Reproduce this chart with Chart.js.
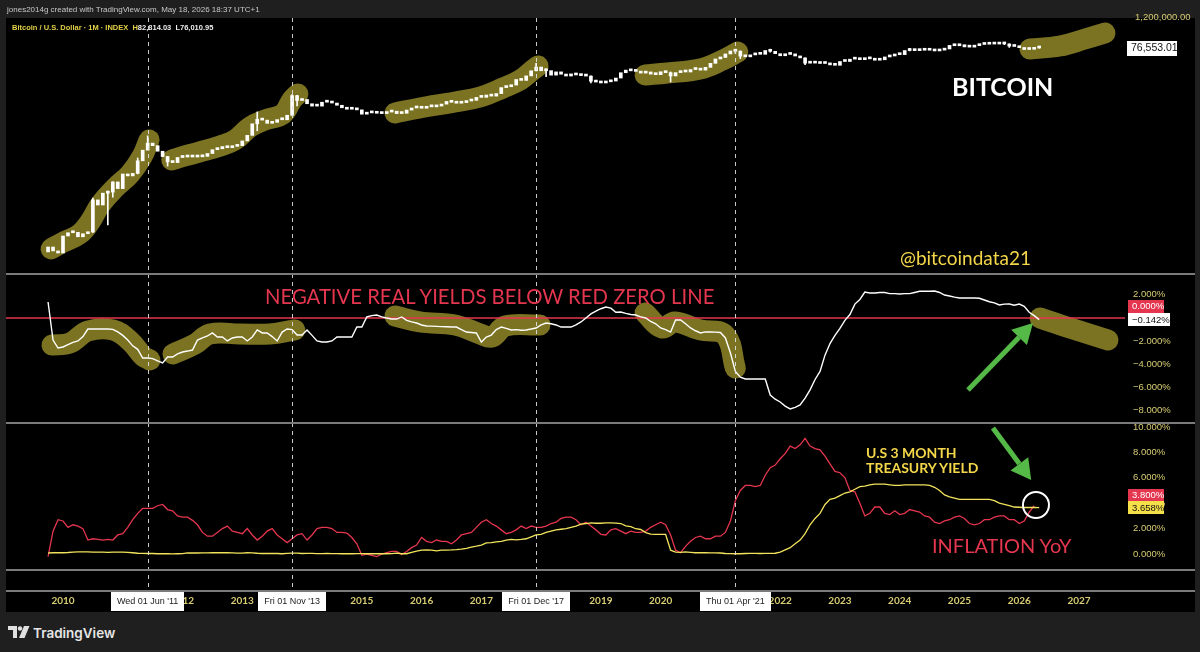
<!DOCTYPE html>
<html><head><meta charset="utf-8">
<script src="https://cdn.jsdelivr.net/npm/chart.js@4.4.1/dist/chart.umd.min.js"></script>
<style>
html,body{margin:0;padding:0;background:#1f1f1f;width:1200px;height:652px;overflow:hidden;font-family:Lato,"Noto Sans",sans-serif;}
#frame{position:absolute;left:6px;top:18px;width:1189px;height:594px;background:#000;}
canvas{position:absolute;left:6px;}
.t{position:absolute;white-space:nowrap;z-index:5;line-height:1;}
.sep{position:absolute;left:6px;width:1189px;height:2px;background:#7a7a7a;z-index:4;}
</style></head><body>
<div id="frame"></div>
<canvas id="c1" width="1189" height="274" style="top:0px"></canvas>
<canvas id="c2" width="1189" height="149" style="top:274px"></canvas>
<canvas id="c3" width="1189" height="189" style="top:423px"></canvas>
<div class="sep" style="top:273px"></div>
<div class="sep" style="top:422px"></div>
<div class="sep" style="top:569px"></div>
<div class="sep" style="top:590px"></div>

<div class="t" style="left:7px;top:5px;font:8px 'Liberation Sans';color:#c8c8c8">jones2014g created with TradingView.com, May 18, 2026 18:37 UTC+1</div>
<div class="t" style="left:12px;top:23px;font:bold 7.5px 'Liberation Sans';color:#e1cf45">Bitcoin / U.S. Dollar · 1M · INDEX &nbsp;H<span style="color:#ececec">82,814.03 &nbsp;L76,010.95</span></div>
<div class="t" style="left:952px;top:71px;font:bold 25px Lato;color:#fff">BITCOIN</div>
<div class="t" style="left:900px;top:246px;font:19px Lato;color:#f3d64a">@bitcoindata21</div>
<div class="t" style="left:265px;top:284px;font:20.3px Lato;color:#e5364f">NEGATIVE REAL YIELDS BELOW RED ZERO LINE</div>
<div class="t" style="left:866px;top:445px;font:bold 14px Lato;color:#f3d64a;line-height:15px">U.S 3 MONTH<br>TREASURY YIELD</div>
<div class="t" style="left:932px;top:533px;font:20px Lato;color:#e5364f">INFLATION YoY</div>
<div class="t" style="left:8px;top:625px;z-index:5;position:absolute">
<svg width="22" height="14" viewBox="0 0 22 14"><path d="M0 1h9v12H5V5H0z" fill="#e0e0e0"/><circle cx="12" cy="3.5" r="2.2" fill="#e0e0e0"/><path d="M16 1h5.5l-5 12H11z" fill="#e0e0e0"/></svg></div>
<div class="t" style="left:33px;top:625px;font:600 13.5px Inter,'Open Sans';color:#e6e6e6">TradingView</div>

<script>
// ---------- DATA ----------
const btcFirstMonth = '2009-10';
const btcFirstOpen = 0.0011;
const btcClose = [
  0.0017, 0.0012, 0.0010,
  0.0045, 0.0060, 0.0062, 0.0042, 0.0055, 0.0064, 0.11, 0.07, 0.20, 0.22, 0.54, 0.30,
  1.09, 0.92, 1.15, 3.5, 9.0, 16.8, 13.4, 8.2, 5.1, 3.2, 3.0, 4.7,
  5.5, 4.9, 4.9, 5.0, 5.2, 6.7, 9.4, 10.2, 12.4, 11.2, 12.6, 13.5,
  20.4, 33.4, 93, 139, 129, 97, 106, 135, 133, 198, 1130, 732,
  800, 550, 445, 445, 630, 640, 585, 480, 385, 338, 378, 320,
  218, 254, 244, 236, 230, 263, 284, 230, 236, 314, 377, 430,
  368, 437, 416, 448, 531, 673, 624, 575, 609, 701, 742, 964,
  970, 1190, 1080, 1350, 2300, 2480, 2875, 4700, 4340, 6470, 10200, 14150,
  10200, 10300, 6930, 9240, 7490, 6400, 7730, 7030, 6630, 6370, 4020, 3740,
  3460, 3830, 4100, 5350, 8570, 10800, 10100, 9630, 8290, 9200, 7570, 7200,
  9350, 8600, 6440, 8660, 9460, 9140, 11350, 11660, 10780, 13800, 19700, 29000,
  33100, 45200, 58800, 57700, 37300, 35000, 41500, 47100, 43800, 61300, 57000, 46300,
  38500, 43200, 45500, 37700, 31800, 19900, 23300, 20050, 19400, 20500, 17170, 16550,
  23130, 23150, 28480, 29250, 27220, 30480, 29230, 25940, 26970, 34650, 37720, 42270,
  42580, 61200, 71300, 60640, 67500, 62680, 64620, 58970, 63330, 70220, 96450, 93430,
  102400, 84350, 82550, 94200, 104600, 107100, 115800, 108200, 114050, 109600, 90400, 87500,
  78600, 67000, 68200, 78900, 76553.01
];
const btcWicks = [
  ['2010-07', 0.0062, 0.13], ['2010-10', 0.012, 0.24], ['2010-11', 0.14, 0.55],
  ['2011-04', 1.1, 4.5], ['2011-06', 10.0, 32.0], ['2011-10', 2.2, 5.2],
  ['2013-04', 50, 266], ['2013-11', 195, 1240], ['2013-12', 450, 1150],
  ['2017-12', 10000, 19700], ['2018-02', 6000, 11800], ['2018-11', 3500, 6500],
  ['2020-03', 3800, 9200], ['2021-04', 47000, 64800], ['2021-05', 30000, 59600],
  ['2021-11', 53000, 69000], ['2022-06', 17600, 31900], ['2024-03', 59000, 73800],
  ['2025-10', 103000, 126000], ['2025-11', 80600, 111000], ['2026-05', 76010.95, 82814.03]
];
const btcLast = 76553.01;
const btcScaleLabel = 1200000;

const ryFirstMonth = '2009-10';
const realYield = [
  1.38, -1.90, -2.59,
  -2.50, -2.30, -2.10, -1.98, -1.60, -0.95, -0.95, -0.95, -0.95, -0.95, -0.98, -1.20,
  -1.50, -1.90, -2.40, -2.70, -3.45, -3.45, -3.50, -3.70, -3.88, -3.36, -3.36, -3.10,
  -2.93, -2.85, -2.76, -1.90, -1.72, -1.55, -1.29, -1.64, -1.64, -1.98, -1.72, -1.64,
  -1.64, -1.98, -1.64, -1.03, -1.29, -1.29, -1.60, -1.98, -1.21, -0.95, -1.00, -1.47,
  -1.47, -1.03, -1.50, -1.98, -2.07, -2.07, -1.98, -1.64, -1.64, -1.64, -1.64, -0.78,
  -0.78, 0.09, 0.20, 0.26, 0.10, 0.00, -0.09, -0.09, 0.09, -0.20, -0.34, -0.43,
  -0.60, -0.69, -0.70, -0.72, -0.74, -0.76, -0.78, -0.78, -1.00, -1.21, -1.25, -1.29,
  -2.07, -1.64, -1.47, -1.00, -0.78, -0.90, -1.03, -1.00, -1.05, -1.03, -0.95, -0.86,
  -0.60, -0.43, -0.50, -0.60, -0.78, -0.78, -0.78, -0.60, -0.34, 0.00, 0.35, 0.60,
  0.80, 0.95, 0.85, 0.50, 0.52, 0.40, 0.30, 0.26, 0.10, 0.00, -0.30, -0.50,
  -0.86, -1.00, -1.21, -0.17, -0.17, -0.50, -0.86, -1.10, -1.29, -1.20, -1.21, -1.22,
  -1.25, -1.72, -3.00, -4.60, -5.10, -5.26, -5.26, -5.26, -5.26, -5.26, -6.64, -7.00,
  -7.24, -7.60, -7.84, -7.70, -7.50, -6.90, -6.20, -5.30, -4.60, -3.20, -2.20, -1.50,
  -0.90, -0.20, 0.30, 1.20, 1.60, 2.24, 2.16, 2.16, 2.20, 2.20, 2.10, 2.10,
  2.07, 2.10, 2.10, 2.20, 2.30, 2.30, 2.30, 2.33, 2.20, 1.98, 1.90, 1.80,
  1.72, 1.72, 1.72, 1.72, 1.70, 1.55, 1.40, 1.30, 1.12, 1.20, 1.21, 1.10,
  1.20, 1.00, 0.50, 0.20, -0.142
];
const zeroLevel = 0;

const rateFirstMonth = '2009-10';
const inflationYoY = [
  -0.2, 1.8, 2.7,
  2.6, 2.1, 2.3, 2.2, 2.0, 1.1, 1.2, 1.15, 1.1, 1.15, 1.1, 1.5,
  1.6, 2.1, 2.7, 3.2, 3.6, 3.6, 3.6, 3.8, 3.9, 3.5, 3.4, 3.0,
  2.9, 2.9, 2.65, 2.3, 1.7, 1.4, 1.4, 1.7, 2.0, 2.2, 1.8, 1.7,
  1.6, 2.0, 1.5, 1.1, 1.4, 1.8, 2.0, 1.5, 1.2, 0.9, 1.2, 1.5,
  1.6, 1.1, 1.5, 2.0, 2.1, 2.1, 2.0, 1.7, 1.7, 1.65, 1.3, 0.8,
  -0.1, 0.0, -0.1, -0.2, 0.0, 0.1, 0.2, 0.2, -0.04, 0.2, 0.5, 0.7,
  1.3, 1.0, 0.9, 1.1, 1.0, 1.0, 0.8, 1.1, 1.5, 1.6, 1.7, 2.1,
  2.5, 2.7, 2.4, 2.2, 1.9, 1.6, 1.7, 1.9, 2.2, 2.0, 2.2, 2.1,
  2.1, 2.2, 2.4, 2.5, 2.8, 2.9, 2.9, 2.7, 2.3, 2.5, 2.2, 1.9,
  1.55, 1.5, 1.9, 2.0, 1.8, 1.6, 1.8, 1.7, 1.7, 1.8, 2.1, 2.3,
  2.5, 2.3, 1.5, 0.3, 0.1, 0.6, 1.0, 1.3, 1.4, 1.2, 1.2, 1.4,
  1.4, 1.7, 2.6, 4.2, 5.0, 5.4, 5.4, 5.3, 5.4, 6.2, 6.8, 7.0,
  7.5, 7.9, 8.5, 8.3, 8.6, 9.1, 8.5, 8.3, 8.2, 7.7, 7.1, 6.5,
  6.4, 6.0, 5.0, 4.9, 4.0, 3.0, 3.2, 3.7, 3.7, 3.2, 3.1, 3.4,
  3.1, 3.2, 3.5, 3.4, 3.3, 3.0, 2.9, 2.5, 2.4, 2.6, 2.7, 2.9,
  3.0, 2.8, 2.4, 2.3, 2.4, 2.7, 2.7, 2.9, 3.0, 3.0, 2.7, 2.7,
  2.4, 2.6, 3.3, 3.8
];
const treasury3M = [
  0.08, 0.10, 0.10,
  0.10, 0.12, 0.15, 0.16, 0.16, 0.17, 0.15, 0.15, 0.14, 0.13, 0.14, 0.14,
  0.15, 0.13, 0.10, 0.06, 0.05, 0.04, 0.04, 0.02, 0.02, 0.02, 0.01, 0.02,
  0.03, 0.09, 0.08, 0.08, 0.09, 0.09, 0.10, 0.10, 0.10, 0.10, 0.09, 0.07,
  0.07, 0.10, 0.09, 0.06, 0.04, 0.05, 0.04, 0.04, 0.02, 0.05, 0.07, 0.07,
  0.04, 0.05, 0.05, 0.03, 0.03, 0.04, 0.03, 0.03, 0.02, 0.02, 0.02, 0.03,
  0.03, 0.02, 0.03, 0.02, 0.02, 0.02, 0.03, 0.07, 0.02, 0.02, 0.13, 0.23,
  0.30, 0.33, 0.30, 0.25, 0.30, 0.30, 0.32, 0.35, 0.39, 0.45, 0.55, 0.62,
  0.70, 0.87, 0.90, 0.95, 1.00, 1.10, 1.15, 1.12, 1.15, 1.20, 1.35, 1.50,
  1.55, 1.70, 1.80, 1.90, 1.95, 2.00, 2.10, 2.20, 2.36, 2.40, 2.45, 2.42,
  2.42, 2.45, 2.45, 2.43, 2.40, 2.22, 2.15, 1.99, 1.93, 1.68, 1.57, 1.55,
  1.55, 1.54, 0.30, 0.14, 0.13, 0.16, 0.13, 0.10, 0.11, 0.10, 0.09, 0.09,
  0.08, 0.04, 0.03, 0.02, 0.02, 0.04, 0.05, 0.05, 0.04, 0.05, 0.05, 0.06,
  0.15, 0.33, 0.50, 0.80, 1.10, 1.60, 2.30, 2.80, 3.20, 3.90, 4.30, 4.40,
  4.60, 4.80, 4.90, 5.10, 5.30, 5.35, 5.45, 5.50, 5.50, 5.50, 5.45, 5.40,
  5.40, 5.45, 5.45, 5.45, 5.45, 5.45, 5.40, 5.25, 5.00, 4.65, 4.50, 4.40,
  4.30, 4.30, 4.30, 4.30, 4.30, 4.30, 4.30, 4.20, 4.00, 3.90, 3.80, 3.70,
  3.68, 3.66, 3.66, 3.66, 3.658
];
const inflationLast = 3.8;
const treasuryLast = 3.658;

const yearTicks = [2010,2011,2012,2013,2014,2015,2016,2017,2018,2019,2020,2021,2022,2023,2024,2025,2026,2027];
const ryTicks = [2, 0, -2, -4, -6, -8];
const rateTicks = [10, 8, 6, 4, 2, 0];
const markerDates = ['2011-06', '2013-11', '2017-12', '2021-04'];
const markerLabels = ["Wed 01 Jun '11", "Fri 01 Nov '13", "Fri 01 Dec '17", "Thu 01 Apr '21"];

// hand-drawn highlight strokes (decimal year, value)
const btcHighlights = [
  [[2009.80,0.00143],[2010.00,0.0026],[2010.28,0.0054],[2010.45,0.0156],[2010.62,0.070],[2010.87,0.317],[2011.12,1.09],[2011.32,4.93],[2011.44,22.2]],
  [[2011.82,3.78],[2012.04,5.39],[2012.29,7.68],[2012.63,13.1],[2012.88,22.2],[2013.13,70.3],[2013.38,131],[2013.68,222],[2013.83,767],[2013.93,1310]],
  [[2015.555,243],[2015.97,378],[2016.56,643],[2016.98,1000],[2017.36,2220],[2017.65,4510],[2017.86,10900],[2017.95,15600]],
  [[2019.74,7010],[2020.11,8370],[2020.66,11900],[2021.04,26500],[2021.29,53700]],
  [[2026.18,70100],[2026.68,91400],[2027.10,170000],[2027.435,289000]]
];
const ryHighlights = [
  [[2009.816,-2.33],[2010.117,-2.16],[2010.418,-1.12],[2010.837,-1.03],[2011.121,-1.98],[2011.339,-3.28],[2011.456,-3.62]],
  [[2011.84,-3.1],[2012.21,-2.24],[2012.46,-1.38],[2012.96,-1.38],[2013.46,-1.38],[2013.88,-1.03]],
  [[2015.555,0.17],[2015.97,-0.34],[2016.56,-0.6],[2016.98,-1.38],[2017.18,-1.64],[2017.40,-0.69],[2017.98,-0.6]],
  [[2019.74,0.43],[2020.02,-0.86],[2020.24,-0.34],[2020.66,-1.03],[2021.08,-1.47],[2021.25,-4.31]],
  [[2026.35,0.0],[2026.85,-0.86],[2027.485,-1.9]]
];
const ryArrow = {from:[2025.143,-6.2], to:[2026.23,-0.43]};
const rateArrow = {from:[2025.56,9.92], to:[2026.20,5.83]};
const rateCircle = [2026.28, 3.86];

// ---------- RENDER ----------
const X_MIN = 2009.0463, X_MAX = 2027.7696;
const OLIVE = '#7b7322', RED = '#e5364f', YEL = '#f2e35c', TICK = '#d8cd72', GREEN = '#55b947';
const ym = s => { const [y,m] = s.split('-').map(Number); return y + (m-1)/12; };
const series = (first, vals) => { const t0 = ym(first); return vals.map((v,i)=>({x:t0+i/12, y:v})); };
const hiddenX = () => ({type:'linear', min:X_MIN, max:X_MAX, offset:false, display:false, bounds:'data'});
const yW = s => { s.width = 70; s.paddingTop = 0; s.paddingBottom = 0; };
const pct = v => (v < 0 ? '\u2212' : '') + Math.abs(v).toFixed(3) + '%';
const baseOpts = {responsive:false, animation:false, devicePixelRatio:1, events:[],
  plugins:{legend:{display:false}, tooltip:{enabled:false}}};
const strokeDs = pts => ({type:'line', data:pts.map(p=>({x:p[0],y:p[1]})), borderColor:OLIVE, borderWidth:21,
  borderCapStyle:'round', borderJoinStyle:'round', tension:0.4, pointRadius:0, order:10});

function vlines(bottomExtra){
  return {id:'vlines', afterDatasetsDraw(chart){
    const {ctx, chartArea, scales:{x}} = chart;
    ctx.save(); ctx.strokeStyle='rgba(225,225,225,0.9)'; ctx.lineWidth=1; ctx.setLineDash([4,4]);
    markerDates.forEach(d=>{ const px=Math.round(x.getPixelForValue(ym(d)))+0.5;
      ctx.beginPath(); ctx.moveTo(px, chartArea.top); ctx.lineTo(px, chartArea.bottom + (bottomExtra||0)); ctx.stroke(); });
    ctx.restore();
  }};
}
function box(ctx, text, x, yc, w, h, bg, fg, size){
  ctx.fillStyle=bg; ctx.fillRect(x, Math.round(yc-h/2), w, h);
  ctx.fillStyle=fg; ctx.font=(size||9.5)+'px "Liberation Sans"'; ctx.textBaseline='middle'; ctx.textAlign='left';
  ctx.fillText(text, x+4, yc+0.5);
}
function arrow(ctx, x0,y0,x1,y1){
  const a=Math.atan2(y1-y0,x1-x0), hl=20, hw=11;
  const bx=x1-hl*Math.cos(a), by=y1-hl*Math.sin(a);
  ctx.save(); ctx.strokeStyle=GREEN; ctx.fillStyle=GREEN; ctx.lineWidth=5;
  ctx.beginPath(); ctx.moveTo(x0,y0); ctx.lineTo(bx,by); ctx.stroke();
  ctx.beginPath(); ctx.moveTo(x1,y1); ctx.lineTo(bx+hw*Math.sin(a), by-hw*Math.cos(a)); ctx.lineTo(bx-hw*Math.sin(a), by+hw*Math.cos(a)); ctx.closePath(); ctx.fill();
  ctx.restore();
}
const yTicksOpts = {color:TICK, padding:8, font:{family:'Liberation Sans', size:9.5}, callback:v=>pct(v)};

// Top: Bitcoin candles
const tb = ym(btcFirstMonth);
const bodies = btcClose.map((c,i)=>({x:tb+i/12, y:[i===0?btcFirstOpen:btcClose[i-1], c]}));
const wicks = btcWicks.map(w=>({x:ym(w[0]), y:[w[1], w[2]]}));
new Chart(document.getElementById('c1'), {
  type:'line',
  data:{datasets:[
    ...btcHighlights.map(strokeDs),
    {type:'bar', data:wicks, backgroundColor:'#ffffff', barThickness:1, grouped:false, order:2, borderWidth:0},
    {type:'bar', data:bodies, backgroundColor:'#ffffff', barThickness:3, grouped:false, minBarLength:2, order:1, borderWidth:0}
  ]},
  options:{...baseOpts, layout:{autoPadding:false, padding:{top:18}},
    scales:{x:hiddenX(), y:{type:'logarithmic', position:'right', min:1.555e-4, max:1.0912e6, bounds:'data',
      grid:{display:false, drawTicks:false}, border:{display:false}, ticks:{display:false}, afterFit:yW}}},
  plugins:[vlines(0), {id:'btcLabels', afterDraw(chart){
    const {ctx, scales:{y}} = chart;
    ctx.save();
    ctx.fillStyle=TICK; ctx.font='9.5px "Liberation Sans"'; ctx.textBaseline='middle'; ctx.textAlign='left';
    ctx.fillText(btcScaleLabel.toLocaleString('en-US',{minimumFractionDigits:2}), 1129, y.getPixelForValue(btcScaleLabel));
    box(ctx, btcLast.toLocaleString('en-US',{minimumFractionDigits:2}), 1121, y.getPixelForValue(btcLast), 50, 15, '#ffffff', '#111', 10.5);
    ctx.restore();
  }}]
});

// Middle: real yields
new Chart(document.getElementById('c2'), {
  type:'line',
  data:{datasets:[
    ...ryHighlights.map(strokeDs),
    {data:[{x:X_MIN,y:zeroLevel},{x:X_MAX,y:zeroLevel}], borderColor:RED, borderWidth:1.5, pointRadius:0, order:5},
    {data:series(ryFirstMonth, realYield), borderColor:'#ffffff', borderWidth:1.4, pointRadius:0, tension:0, order:1}
  ]},
  options:{...baseOpts, layout:{autoPadding:false},
    scales:{x:hiddenX(), y:{type:'linear', position:'right', min:-9.0517, max:3.7931, bounds:'data',
      grid:{display:false, drawTicks:false}, border:{display:false}, afterFit:yW,
      afterBuildTicks:s=>{ s.ticks = ryTicks.map(v=>({value:v})); },
      ticks:yTicksOpts}}},
  plugins:[vlines(0), {id:'ryLabels', afterDraw(chart){
    const {ctx, scales:{x,y}} = chart;
    ctx.save();
    arrow(ctx, x.getPixelForValue(ryArrow.from[0]), y.getPixelForValue(ryArrow.from[1]), x.getPixelForValue(ryArrow.to[0]), y.getPixelForValue(ryArrow.to[1]));
    box(ctx, pct(zeroLevel), 1122, y.getPixelForValue(zeroLevel)-12, 36, 13, RED, '#ffffff');
    box(ctx, pct(realYield[realYield.length-1]), 1122, y.getPixelForValue(realYield[realYield.length-1]), 42, 13, '#ffffff', '#111');
    ctx.restore();
  }}]
});

// Bottom: inflation & 3M treasury
new Chart(document.getElementById('c3'), {
  type:'line',
  data:{datasets:[
    {data:series(rateFirstMonth, inflationYoY), borderColor:RED, borderWidth:1.3, pointRadius:0, tension:0, order:2},
    {data:series(rateFirstMonth, treasury3M), borderColor:YEL, borderWidth:1.3, pointRadius:0, tension:0, order:1}
  ]},
  options:{...baseOpts, layout:{autoPadding:false},
    scales:{
      x:{type:'linear', min:X_MIN, max:X_MAX, offset:false, bounds:'data', position:'bottom',
        grid:{display:false, drawTicks:false}, border:{display:false},
        afterBuildTicks:s=>{ s.ticks = yearTicks.map(v=>({value:v})); },
        afterFit:s=>{ s.height = 42; s.paddingLeft = 0; s.paddingRight = 0; },
        ticks:{autoSkip:false, maxRotation:0, minRotation:0, padding:25, color:TICK,
          font:{family:'Lato', size:10, weight:'bold'}, callback:v=>String(v)}},
      y:{type:'linear', position:'right', min:-1.2598, max:10.315, bounds:'data',
        grid:{display:false, drawTicks:false}, border:{display:false}, afterFit:yW,
        afterBuildTicks:s=>{ s.ticks = rateTicks.map(v=>({value:v})); },
        ticks:yTicksOpts}}},
  plugins:[vlines(21), {id:'rateLabels', afterDraw(chart){
    const {ctx, chartArea, scales:{x,y}} = chart;
    ctx.save();
    arrow(ctx, x.getPixelForValue(rateArrow.from[0]), y.getPixelForValue(rateArrow.from[1]), x.getPixelForValue(rateArrow.to[0]), y.getPixelForValue(rateArrow.to[1]));
    ctx.strokeStyle='#ffffff'; ctx.lineWidth=2;
    ctx.beginPath(); ctx.arc(x.getPixelForValue(rateCircle[0]), y.getPixelForValue(rateCircle[1]), 13, 0, Math.PI*2); ctx.stroke();
    box(ctx, pct(inflationLast), 1122, y.getPixelForValue(inflationLast)-11, 36, 12, RED, '#ffffff');
    box(ctx, pct(treasuryLast), 1122, y.getPixelForValue(treasuryLast), 36, 13, '#f5e04a', '#111');
    const yc = chartArea.bottom + 31;
    ctx.font='9px "Liberation Sans"'; ctx.textAlign='center'; ctx.textBaseline='middle';
    markerDates.forEach((d,i)=>{ const px=x.getPixelForValue(ym(d)); const w=ctx.measureText(markerLabels[i]).width+12;
      ctx.fillStyle='#ffffff'; ctx.fillRect(Math.round(px-w/2), chartArea.bottom+22, Math.round(w), 19);
      ctx.fillStyle='#222'; ctx.fillText(markerLabels[i], px, yc+0.5); });
    ctx.restore();
  }}]
});
</script>
</body></html>
